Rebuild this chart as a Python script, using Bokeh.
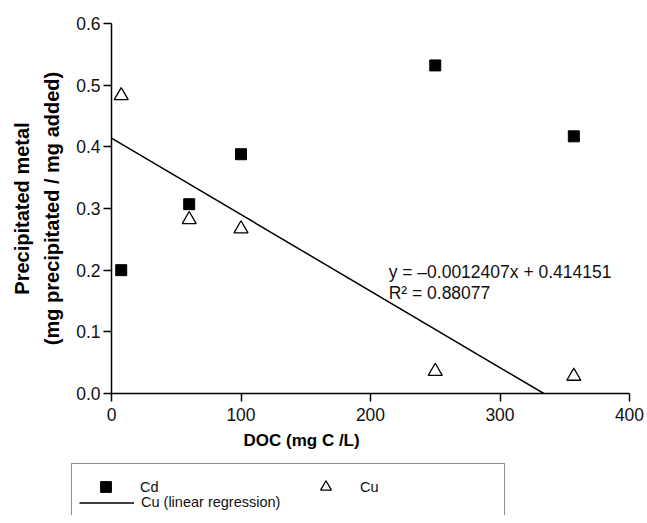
from bokeh.plotting import figure
from bokeh.models import (Range1d, FixedTicker, PrintfTickFormatter, Legend, LegendItem, Label, Title)
from bokeh.embed import file_html
from bokeh.resources import INLINE

# ---- data ----
doc_cd = [7.5, 60, 100, 250, 357]
cd_vals = [0.200, 0.307, 0.388, 0.532, 0.417]
doc_cu = [7.5, 60, 100, 250, 357]
cu_vals = [0.483, 0.282, 0.267, 0.036, 0.028]
slope = -0.0012407
intercept = 0.414151
r2 = 0.88077
x_ticks = [0, 100, 200, 300, 400]
y_ticks = [0.0, 0.1, 0.2, 0.3, 0.4, 0.5, 0.6]
series_names = ["Cd", "Cu", "Cu (linear regression)"]

FONT = "Liberation Sans"

p = figure(width=647, height=462, output_backend="svg", toolbar_location=None,
           x_range=Range1d(0, 400), y_range=Range1d(0, 0.6),
           min_border_left=111, min_border_right=18, min_border_top=23, min_border_bottom=69)
p.outline_line_color = None
p.grid.grid_line_color = None
p.background_fill_color = "white"

for ax in (p.xaxis[0], p.yaxis[0]):
    ax.axis_line_width = 1.5
    ax.axis_line_color = "black"
    ax.major_tick_line_width = 1.5
    ax.major_tick_line_color = "black"
    ax.major_tick_out = 8
    ax.major_tick_in = 0
    ax.minor_tick_line_color = None
    ax.major_label_text_font = FONT
    ax.major_label_text_font_size = "17.5px"
    ax.major_label_text_color = "#111111"
    ax.axis_label_text_font = FONT
    ax.axis_label_text_font_style = "bold"
    ax.axis_label_text_color = "black"

p.xaxis.ticker = FixedTicker(ticks=x_ticks)
p.yaxis.ticker = FixedTicker(ticks=y_ticks)
p.xaxis.formatter = PrintfTickFormatter(format="%d")
p.yaxis.formatter = PrintfTickFormatter(format="%.1f")
p.xaxis.major_label_standoff = 6
p.yaxis.axis_label = "Precipitated metal\n(mg precipitated / mg added)"
p.yaxis.axis_label_text_font_size = "20px"
p.yaxis.axis_label_text_line_height = 1.35
p.yaxis.major_label_standoff = 3
p.yaxis.axis_label_standoff = 10

# x-axis title (off-centre, as in the original)
xt = Title(text="DOC (mg C /L)", align="left", offset=132, standoff=10,
           text_font=FONT, text_font_size="17px", text_font_style="bold", text_color="black")
p.add_layout(xt, "below")

# regression line (clipped where it reaches zero)
x_end = -intercept / slope
reg_x = [0, x_end]
reg_y = [intercept + slope * v for v in reg_x]

SQ = dict(marker="square", size=11, fill_color="black", line_color="black")
TR = dict(marker="triangle", size=14, fill_color="white", line_color="black", line_width=1.3)
LN = dict(line_color="black", line_width=1.5)

p.line(reg_x, reg_y, **LN)
p.scatter(doc_cd, cd_vals, **SQ)
p.scatter(doc_cu, cu_vals, **TR)

eq1 = Label(x=214, y=0.197, text=f"y = \u2013{abs(slope):.7f}x + {intercept:.6f}",
            text_font=FONT, text_font_size="17.5px", text_baseline="middle", text_color="#111111")
eq2 = Label(x=214, y=0.1626, text=f"R\u00b2 = {r2:.5f}",
            text_font=FONT, text_font_size="17.5px", text_baseline="middle", text_color="#111111")
p.add_layout(eq1)
p.add_layout(eq2)

# ---- legend strip below the chart (same series, out of its view range) ----
p2 = figure(width=647, height=53, output_backend="svg", toolbar_location=None,
            x_range=Range1d(-2, -1), y_range=Range1d(-2, -1), x_axis_type=None, y_axis_type=None,
            min_border_left=70, min_border_right=0, min_border_top=0, min_border_bottom=0)
p2.outline_line_color = None
p2.background_fill_color = "white"
l_ln = p2.line(reg_x, reg_y, **LN)
l_cd = p2.scatter(doc_cd, cd_vals, **SQ)
l_cu = p2.scatter(doc_cu, cu_vals, **TR)

common = dict(label_text_font=FONT, label_text_font_size="14.5px", label_text_color="#111111",
              label_standoff=7, glyph_width=55, spacing=0)

# framed box holding the regression entry (second row)
leg_box = Legend(items=[LegendItem(label=series_names[2], renderers=[l_ln])],
                 location="top_left", orientation="vertical",
                 title=" ", title_text_font_size="5px", title_standoff=17,
                 border_line_color="#222222", border_line_width=1.5,
                 background_fill_color="white", background_fill_alpha=1.0,
                 padding=7, margin=1, glyph_height=15, label_height=15, label_width=356, **common)
p2.add_layout(leg_box, "center")

# first row: Cd and Cu markers
leg_pts = Legend(items=[LegendItem(label=series_names[0], renderers=[l_cd]),
                        LegendItem(label=series_names[1], renderers=[l_cu])],
                 location=(8, 15), orientation="horizontal", ncols=2,
                 border_line_color=None, background_fill_alpha=0.0,
                 padding=0, margin=0, glyph_height=27, label_height=15, label_width=158, **common)
p2.add_layout(leg_pts, "center")

open("out.html", "w").write(file_html([p, p2], INLINE))
